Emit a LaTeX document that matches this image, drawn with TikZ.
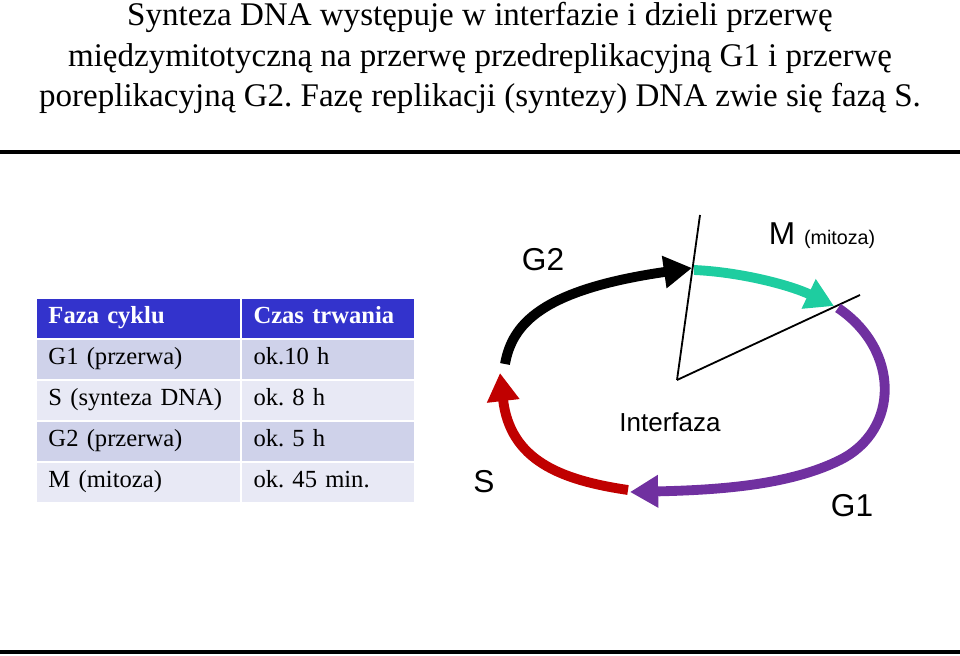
\documentclass[tikz,border=0pt]{standalone}
\usepackage{fontspec}
\setmainfont{Liberation Serif}
\newfontfamily\labelfont{Liberation Sans}
\usetikzlibrary{arrows.meta,positioning}
\definecolor{hdrblue}{RGB}{51,51,204}
\definecolor{rowdark}{RGB}{207,210,234}
\definecolor{rowlight}{RGB}{232,233,245}
\definecolor{phaseM}{RGB}{30,205,160}
\definecolor{phaseG}{RGB}{112,48,160}
\definecolor{phaseS}{RGB}{192,0,0}
\frenchspacing

\begin{document}
\begin{tikzpicture}[
    x=0.025cm, y=-0.025cm,
    cell/.style={minimum height=1.02cm, inner sep=0pt, text height=12pt, text depth=4pt,
        font=\fontsize{17.5}{20}\selectfont, anchor=north west, align=left,
        draw=white, line width=1.2pt},
    hdr/.style={cell, fill=hdrblue, text=white, font=\fontsize{17.5}{20}\selectfont\bfseries},
    rowA/.style={cell, fill=rowdark},
    rowB/.style={cell, fill=rowlight},
    phase/.style={line width=7pt, -{Triangle[length=20pt,width=22pt]}},
    lbl/.style={font=\labelfont\fontsize{22.5}{26}\selectfont}
]
    \useasboundingbox (0,0) rectangle (960,656);

    % Title
    \node[align=center, font=\fontsize{23.5}{28.5}\selectfont] (title) at (480,58)
        {Synteza DNA występuje w interfazie i dzieli przerwę\\
         międzymitotyczną na przerwę przedreplikacyjną G1 i przerwę\\
         poreplikacyjną G2. Fazę replikacji (syntezy) DNA zwie się fazą S.};
    \draw[line width=2.2pt] (0,152) -- (960,152);
    \draw[line width=2.2pt] (0,652) -- (960,652);

    % Table
    \node[hdr, text width=5.15cm] (h1) at (35,297) {\hspace*{9pt}Faza cyklu};
    \node[hdr, text width=4.35cm] (h2) at (240,297) {\hspace*{9pt}Czas trwania};
    \node[rowA, text width=5.15cm] (a1) at (35,338) {\hspace*{9pt}G1 (przerwa)};
    \node[rowA, text width=4.35cm] (a2) at (240,338) {\hspace*{9pt}ok.10 h};
    \node[rowB, text width=5.15cm] (b1) at (35,379) {\hspace*{9pt}S (synteza DNA)};
    \node[rowB, text width=4.35cm] (b2) at (240,379) {\hspace*{9pt}ok. 8 h};
    \node[rowA, text width=5.15cm] (c1) at (35,420) {\hspace*{9pt}G2 (przerwa)};
    \node[rowA, text width=4.35cm] (c2) at (240,420) {\hspace*{9pt}ok. 5 h};
    \node[rowB, text width=5.15cm] (d1) at (35,461) {\hspace*{9pt}M (mitoza)};
    \node[rowB, text width=4.35cm] (d2) at (240,461) {\hspace*{9pt}ok. 45 min.};

    % Cycle
    \coordinate (c) at (677,380);
    \coordinate (g2s) at (505,364);
    \coordinate (g2e) at (692,268);
    \coordinate (ms) at (694,270);
    \coordinate (me) at (834,306);
    \coordinate (g1s) at (838,308);
    \coordinate (g1e) at (630,492);
    \coordinate (ss) at (628,490);
    \coordinate (se) at (500,373);
    \coordinate (cutA) at (700,215);
    \coordinate (cutB) at (860,295);

    \draw[line width=1.3pt] (c) -- (cutA);
    \draw[line width=1.3pt] (c) -- (cutB);
    \draw[phase, black] (g2s) .. controls (512,325) and (540,290) .. (g2e);
    \draw[phase, phaseM] (ms) .. controls (740,272) and (790,285) .. (me);
    \draw[phase, phaseG] (g1s) .. controls (900,350) and (900,430) .. (840,460)
        .. controls (790,485) and (720,490) .. (g1e);
    \draw[phase, phaseS] (ss) .. controls (560,480) and (510,460) .. (se);

    % Labels
    \node[lbl] (lG2) at (543,260) {G2};
    \node[lbl, anchor=west] (lM) at (764,236) {M \fontsize{14}{16}\selectfont(mitoza)};
    \node[lbl, font=\labelfont\fontsize{18.5}{22}\selectfont] (lI) at (670,422) {Interfaza};
    \node[lbl] (lS) at (484,482) {S};
    \node[lbl] (lG1) at (852,506) {G1};
\end{tikzpicture}
\end{document}
